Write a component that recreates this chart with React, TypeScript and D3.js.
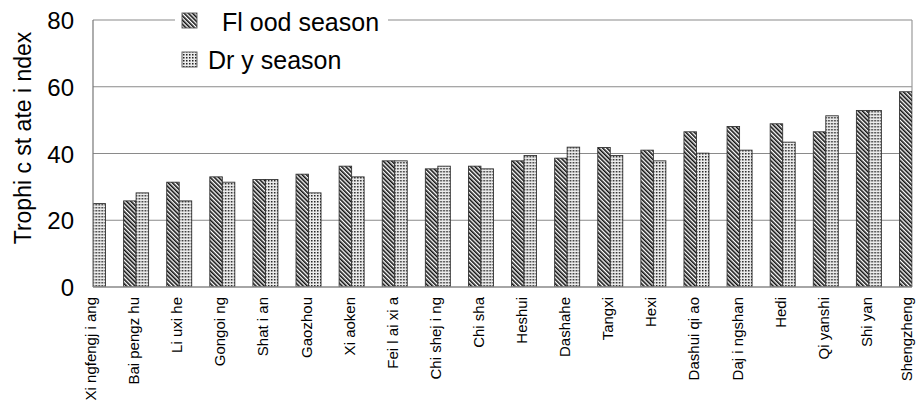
import React from "react";
import * as d3 from "d3";

const categories = [
  "Xi ngfengj i ang", "Bai pengz hu", "Li uxi he", "Gongoi ng", "Shat i an",
  "Gaozhou", "Xi aoken", "Fei l ai xi a", "Chi shej i ng", "Chi sha",
  "Heshui", "Dashahe", "Tangxi", "Hexi", "Dashui qi ao",
  "Daj i ngshan", "Hedi", "Qi yanshi", "Shi yan", "Shengzheng",
];
const floodValues: (number | null)[] = [
  null, 25.8, 31.4, 33.0, 32.2, 33.8, 36.2, 37.8, 35.4, 36.2,
  37.8, 38.6, 41.8, 41.0, 46.5, 48.1, 48.9, 46.5, 52.9, 58.5,
];
const dryValues: (number | null)[] = [
  25.0, 28.2, 25.8, 31.4, 32.2, 28.2, 33.0, 37.8, 36.2, 35.4,
  39.4, 41.9, 39.4, 37.8, 40.1, 41.0, 43.4, 51.3, 52.9, null,
];
const yTicks = [0, 20, 40, 60, 80];
const seriesKeys = ["flood", "dry"];
const seriesNames = ["Fl ood season", "Dr y season"];
const yTitle = "Trophi c st ate i ndex";

const W = 917;
const H = 408;
const left = 93;
const right = 912;
const top = 20;
const bottom = 287;
const FONT = "'Liberation Sans', Arial, Helvetica, sans-serif";

export default function App() {
  const n = categories.length;
  const step = (right - left) / (n - 1);
  const x0 = d3
    .scaleBand<string>()
    .domain(categories)
    .range([left - step / 2, right + step / 2])
    .paddingInner(0.42)
    .paddingOuter(0.21);
  const x1 = d3.scaleBand<string>().domain(seriesKeys).range([0, x0.bandwidth()]);
  const y = d3.scaleLinear().domain([0, 80]).range([bottom, top]);

  const rows = categories.map((c, i) => ({ c, flood: floodValues[i], dry: dryValues[i] }));
  const fills: Record<string, string> = { flood: "url(#stripes)", dry: "url(#dots)" };

  return (
    <svg
      width={W}
      height={H}
      style={{ position: "absolute", left: 0, top: 0, background: "#fff" }}
      fontFamily={FONT}
    >
      <defs>
        <pattern id="stripes" patternUnits="userSpaceOnUse" width={3} height={10} patternTransform="rotate(-45)">
          <rect width={3} height={10} fill="#fff" />
          <rect width={1.6} height={10} fill="#111" />
        </pattern>
        <pattern id="dots" patternUnits="userSpaceOnUse" width={3} height={3}>
          <rect width={3} height={3} fill="#ececec" />
          <rect width={1.5} height={1.5} fill="#222" />
        </pattern>
        <clipPath id="plotClip">
          <rect x={left} y={0} width={right - left} height={bottom} />
        </clipPath>
      </defs>

      {/* gridlines */}
      {yTicks.filter((t) => t > 0).map((t) => (
        <line key={t} x1={left} x2={right} y1={y(t)} y2={y(t)} stroke="#8a8a8a" strokeWidth={1.2} />
      ))}
      <line x1={right} x2={right} y1={top} y2={bottom} stroke="#9a9a9a" strokeWidth={1.2} />

      {/* bars */}
      <g clipPath="url(#plotClip)">
        {rows.map((r) => (
          <g key={r.c} transform={`translate(${x0(r.c)},0)`}>
            {seriesKeys.map((k) => {
              const v = (r as any)[k] as number | null;
              if (v == null) return null;
              return (
                <rect
                  key={k}
                  x={x1(k)}
                  y={y(v)}
                  width={x1.bandwidth()}
                  height={y(0) - y(v)}
                  fill={fills[k]}
                  stroke="#333"
                  strokeWidth={0.9}
                />
              );
            })}
          </g>
        ))}
      </g>

      {/* axes */}
      <line x1={left} x2={left} y1={top} y2={bottom} stroke="#777" strokeWidth={1.2} />
      <line x1={left} x2={right} y1={bottom} y2={bottom} stroke="#888" strokeWidth={1.5} />

      {/* y ticks */}
      {yTicks.map((t) => (
        <text key={t} x={74} y={y(t) + 9} textAnchor="end" fontSize={24} fill="#000">
          {t}
        </text>
      ))}

      {/* y title */}
      <text transform={`translate(31,138) rotate(-90)`} textAnchor="middle" fontSize={23} fill="#000">
        {yTitle}
      </text>

      {/* x labels */}
      {categories.map((c) => {
        const cx = Math.min((x0(c) as number) + x0.bandwidth() / 2 + 3, 912);
        return (
          <text
            key={c}
            transform={`translate(${cx},297) rotate(-90)`}
            textAnchor="end"
            fontSize={15}
            fill="#000"
          >
            {c}
          </text>
        );
      })}

      {/* legend */}
      <rect x={175} y={4} width={213} height={72} fill="#fff" />
      {seriesKeys.map((k, i) => (
        <g key={k}>
          <rect
            x={182}
            y={i === 0 ? 13 : 52}
            width={15}
            height={15}
            fill={fills[k]}
            stroke="#555"
            strokeWidth={0.9}
          />
          <text x={i === 0 ? 222 : 208} y={i === 0 ? 31 : 69} fontSize={25} fill="#000">
            {seriesNames[i]}
          </text>
        </g>
      ))}
    </svg>
  );
}
